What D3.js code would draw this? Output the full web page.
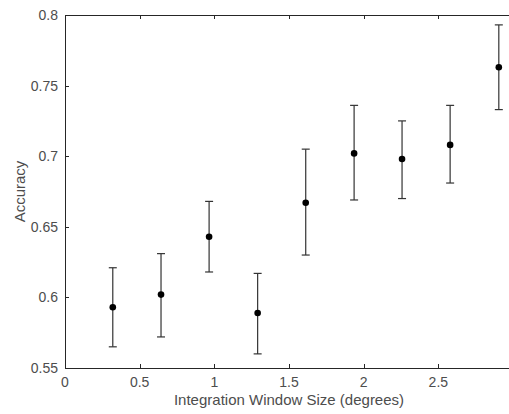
<!DOCTYPE html>
<html>
<head>
<meta charset="utf-8">
<script src="https://cdn.jsdelivr.net/npm/d3@7"></script>
<style>
  html, body { margin: 0; padding: 0; background: #fff; overflow: hidden; }
  svg { display: block; font-family: "Liberation Sans", Arial, sans-serif; }
  .tick-label { fill: #4d4d4d; font-size: 14px; }
  .axis-title { fill: #4d4d4d; font-size: 15px; }
</style>
</head>
<body>
<svg id="chart"></svg>
<script>
// ── DATA ──────────────────────────────────────────────────────────────────
const windowSize = [0.32, 0.643, 0.965, 1.29, 1.612, 1.936, 2.257, 2.579, 2.905];
const accuracy   = [0.593, 0.602, 0.643, 0.589, 0.667, 0.702, 0.698, 0.708, 0.763];
const errLow     = [0.565, 0.572, 0.618, 0.560, 0.630, 0.669, 0.670, 0.681, 0.733];
const errHigh    = [0.621, 0.631, 0.668, 0.617, 0.705, 0.736, 0.725, 0.736, 0.793];
const xTicks = [0, 0.5, 1, 1.5, 2, 2.5, 3];
const yTicks = [0.55, 0.6, 0.65, 0.7, 0.75, 0.8];

// ── DIMENSIONS ───────────────────────────────────────────────────────────
const W = 509, H = 414;
const margin = { top: 15, left: 65, right: 513, bottom: 368 }; // box edges in px

const svg = d3.select("#chart").attr("width", W).attr("height", H);

const x = d3.scaleLinear().domain([0, 3]).range([margin.left, margin.right]);
const y = d3.scaleLinear().domain([0.55, 0.8]).range([margin.bottom, margin.top]);

const axisColor = "#262626";
const tickLen = 4;

// ── BOX ──────────────────────────────────────────────────────────────────
svg.append("rect")
  .attr("x", x(0) + 0.5).attr("y", y(0.8) + 0.5)
  .attr("width", x(3) - x(0)).attr("height", y(0.55) - y(0.8))
  .attr("fill", "none").attr("stroke", axisColor).attr("stroke-width", 1);

// ── TICKS (inward, on all sides) ─────────────────────────────────────────
const ticks = svg.append("g").attr("stroke", axisColor).attr("stroke-width", 1);
xTicks.forEach(t => {
  const px = Math.round(x(t)) + 0.5;
  ticks.append("line").attr("x1", px).attr("x2", px)
    .attr("y1", y(0.55)).attr("y2", y(0.55) - tickLen);
  ticks.append("line").attr("x1", px).attr("x2", px)
    .attr("y1", y(0.8)).attr("y2", y(0.8) + tickLen);
});
yTicks.forEach(t => {
  const py = Math.round(y(t)) + 0.5;
  ticks.append("line").attr("x1", x(0)).attr("x2", x(0) + tickLen)
    .attr("y1", py).attr("y2", py);
  ticks.append("line").attr("x1", x(3)).attr("x2", x(3) - tickLen)
    .attr("y1", py).attr("y2", py);
});

// ── TICK LABELS ──────────────────────────────────────────────────────────
svg.append("g").selectAll("text")
  .data(xTicks.filter(t => x(t) < W))
  .join("text")
    .attr("class", "tick-label")
    .attr("x", d => x(d))
    .attr("y", y(0.55) + 19)
    .attr("text-anchor", "middle")
    .text(d => d3.format("~g")(d));

svg.append("g").selectAll("text")
  .data(yTicks)
  .join("text")
    .attr("class", "tick-label")
    .attr("x", x(0) - 7)
    .attr("y", d => y(d) + 5)
    .attr("text-anchor", "end")
    .text(d => d3.format("~g")(d));

// ── AXIS TITLES ──────────────────────────────────────────────────────────
svg.append("text")
  .attr("class", "axis-title")
  .attr("x", (x(0) + x(3)) / 2)
  .attr("y", 405)
  .attr("text-anchor", "middle")
  .text("Integration Window Size (degrees)");

svg.append("text")
  .attr("class", "axis-title")
  .attr("transform", `translate(25,${(y(0.55) + y(0.8)) / 2}) rotate(-90)`)
  .attr("text-anchor", "middle")
  .text("Accuracy");

// ── ERROR BARS ───────────────────────────────────────────────────────────
const capW = 4;
const bars = svg.append("g").attr("stroke", "#333").attr("stroke-width", 1.2);
windowSize.forEach((w, i) => {
  const cx = x(w);
  bars.append("line").attr("x1", cx).attr("x2", cx)
    .attr("y1", y(errLow[i])).attr("y2", y(errHigh[i]));
  bars.append("line").attr("x1", cx - capW).attr("x2", cx + capW)
    .attr("y1", y(errLow[i])).attr("y2", y(errLow[i]));
  bars.append("line").attr("x1", cx - capW).attr("x2", cx + capW)
    .attr("y1", y(errHigh[i])).attr("y2", y(errHigh[i]));
});

// ── POINTS ───────────────────────────────────────────────────────────────
svg.append("g").selectAll("circle")
  .data(windowSize)
  .join("circle")
    .attr("cx", d => x(d))
    .attr("cy", (d, i) => y(accuracy[i]))
    .attr("r", 3.3)
    .attr("fill", "#000");
</script>
</body>
</html>
